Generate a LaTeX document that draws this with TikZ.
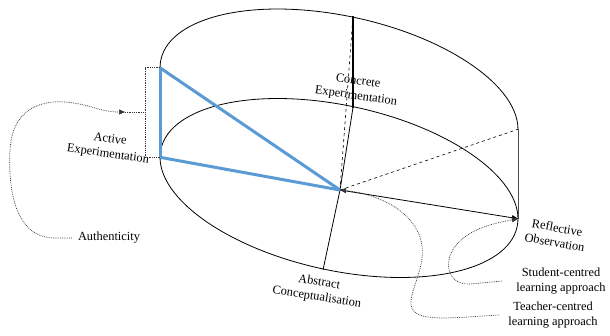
\documentclass[tikz,border=0pt]{standalone}
\usepackage{fontspec}
\setmainfont{Liberation Serif}
\definecolor{cycleblue}{HTML}{5B9BD5}
\usetikzlibrary{arrows.meta}

\begin{document}
\begin{tikzpicture}[
  x=1pt, y=-1pt,
  lbl/.style={align=center, font=\fontsize{12.4}{15}\selectfont, inner sep=0pt},
  rim/.style={black, line width=0.8pt},
  blueside/.style={cycleblue, line width=3pt},
  hidden/.style={black, dashed, line width=0.6pt},
  link/.style={black!80, line width=0.7pt, dash pattern=on 0.8pt off 1pt},
  tip/.style={-{Triangle[length=6pt,width=5pt]}},
]
  \useasboundingbox (0,0) rectangle (610,335);

  % cylinder corners and centre
  \coordinate (TL) at (160,67.8);
  \coordinate (BL) at (160,157.3);
  \coordinate (TR) at (518,129.2);
  \coordinate (BR) at (518,218.7);
  \coordinate (P) at (340,190);
  \coordinate (CT) at (353,16);
  \coordinate (CB) at (353,107.5);
  \coordinate (AB) at (323,270);
  \coordinate (arrA) at (125,112);
  \coordinate (brk) at (145,112);

  % top rim (back half) and bottom ellipse
  \draw[rim, shift={(339,98.5)}, rotate=-12.3]
    (5.64:182.3pt and 82.5pt)
    arc[start angle=5.64, end angle=185.64, x radius=182.3pt, y radius=82.5pt];
  \draw[rim, shift={(339,188)}, rotate=-12.3]
    (0,0) ellipse[x radius=182.3pt, y radius=82.5pt];
  \draw[black!70, line width=0.7pt] (TR) -- (BR);

  % spokes
  \draw[black, line width=1.8pt] (CT) -- (CB);
  \draw[rim] (AB) -- (P) -- (CB);
  \draw[hidden] (P) -- (CT);
  \draw[hidden] (P) -- (TR);
  \draw[rim, tip] (P) -- (BR);

  % active side
  \draw[blueside] (TL) -- (BL);
  \draw[blueside] (TL) -- (P);
  \draw[blueside] (BL) -- (P);

  % labels
  \node[lbl, rotate=-8] (conc) at (357,89) {Concrete\\Experimentation};
  \node[lbl, rotate=-8] (act) at (109,147) {Active\\Experimentation};
  \node[lbl, rotate=-10] (refl) at (556,235) {Reflective\\Observation};
  \node[lbl, rotate=-9] (abst) at (318,290) {Abstract\\Conceptualisation};
  \node[lbl] (auth) at (109,238) {Authenticity};
  \node[lbl] (stud) at (561,281) {Student-centred\\learning approach};
  \node[lbl] (teach) at (553,315) {Teacher-centred\\learning approach};

  % bracket and dotted links
  \draw[link] (TL) -- (145,67.8) -- (145,157.3) -- (BL);
  \draw[link] (arrA) -- (brk);
  \draw[link, tip] ([xshift=-6pt]auth.west) -- (55,238)
    .. controls (15,238) and (8,190) .. (10,150)
    .. controls (12,110) and (40,100) .. (65,102)
    .. controls (90,104) and (100,112) .. (arrA);
  \draw[link, tip] ([xshift=-14pt]stud.west) -- (470,284)
    .. controls (445,285) and (443,258) .. (458,243)
    .. controls (472,228) and (495,223) .. (BR);
  \draw[link, tip] ([xshift=-9pt]teach.west)
    .. controls (445,318) and (408,324) .. (411,300)
    .. controls (414,280) and (430,258) .. (418,232)
    .. controls (405,205) and (370,193) .. (P);
\end{tikzpicture}
\end{document}
